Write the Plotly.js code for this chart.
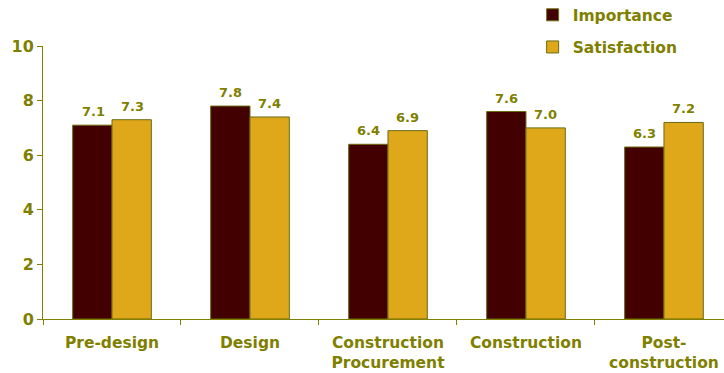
<!DOCTYPE html>
<html>
<head>
<meta charset="utf-8">
<script src="https://cdn.plot.ly/plotly-3.0.1.min.js"></script>
<style>html,body{margin:0;padding:0;background:#fff;}#chart{width:724px;height:373px;}</style>
</head>
<body>
<div id="chart"></div>
<script>
const categories = ["Pre-design", "Design", "Construction<br>Procurement", "Construction", "Post-<br>construction"];
const importance = [7.1, 7.8, 6.4, 7.6, 6.3];
const satisfaction = [7.3, 7.4, 6.9, 7.0, 7.2];
const yTicks = [0, 2, 4, 6, 8, 10];

const olive = "#7F7F00";
const fontFam = "DejaVu Sans, Verdana, sans-serif";

const traces = [
  {
    type: "bar", name: "Importance", x: categories, y: importance, legendgroup: "a",
    marker: {color: "#420000", line: {color: "#6B6B10", width: 1}}
  },
  {
    type: "bar", name: "Satisfaction", x: categories, y: satisfaction, legendgroup: "b",
    marker: {color: "#DFA81B", line: {color: "#6B6B10", width: 1}}
  }
];

const labelFont = {family: fontFam, size: 13, color: olive, weight: "bold"};
const annotations = [];
categories.forEach((c, i) => {
  annotations.push({x: c, y: importance[i], text: importance[i].toFixed(1), xref: "x", yref: "y",
    showarrow: false, yanchor: "bottom", xshift: -19, yshift: 4, font: labelFont});
  annotations.push({x: c, y: satisfaction[i], text: satisfaction[i].toFixed(1), xref: "x", yref: "y",
    showarrow: false, yanchor: "bottom", xshift: 20, yshift: 4, font: labelFont});
});

const layout = {
  width: 724, height: 373,
  margin: {l: 43, r: 0, t: 46, b: 54, autoexpand: false},
  paper_bgcolor: "#fff", plot_bgcolor: "#fff",
  barmode: "group", bargap: 0.43, bargroupgap: 0,
  font: {family: fontFam, color: olive, size: 15, weight: "bold"},
  showlegend: true,
  legend: {x: 0.719, y: 1.175, xanchor: "left", yanchor: "top",
    font: {family: fontFam, size: 15.5, color: olive, weight: "bold"},
    bgcolor: "rgba(0,0,0,0)", tracegroupgap: 9, traceorder: "grouped", itemwidth: 30},
  annotations: annotations,
  xaxis: {
    type: "category", range: [-0.5, 4.435],
    showline: true, linecolor: olive, linewidth: 1,
    ticks: "outside", ticklen: 5, tickcolor: olive, tickson: "boundaries",
    ticklabelstandoff: 9,
    showgrid: false, zeroline: false,
    tickfont: {family: fontFam, size: 15.5, color: olive, weight: "bold"}
  },
  yaxis: {
    range: [0, 10], tickvals: yTicks, ticktext: yTicks.map(String),
    showline: true, linecolor: olive, linewidth: 1,
    ticks: "outside", ticklen: 5, tickcolor: olive,
    showgrid: false, zeroline: false,
    tickfont: {family: fontFam, size: 16, color: olive, weight: "bold"}
  }
};

Plotly.newPlot("chart", traces, layout, {displayModeBar: false, staticPlot: true});
</script>
</body>
</html>
